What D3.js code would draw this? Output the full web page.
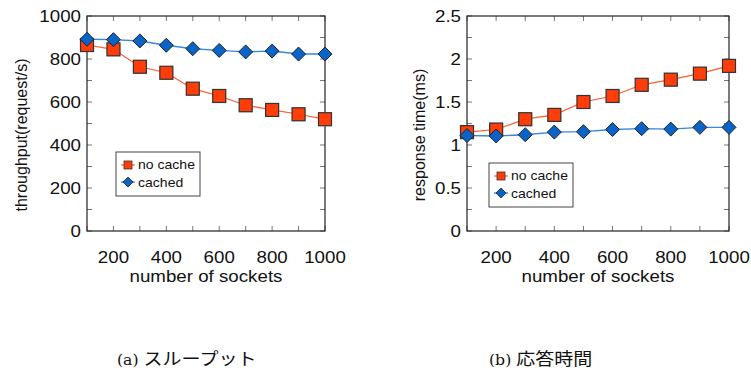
<!DOCTYPE html>
<html>
<head>
<meta charset="utf-8">
<script src="https://cdn.jsdelivr.net/npm/d3@7"></script>
<style>
  body { margin: 0; background: #fff; }
  svg text { font-family: "Liberation Sans", Arial, sans-serif; }
</style>
</head>
<body>
<svg id="chart" width="751" height="371"></svg>
<script>
// shared x values
const sockets = [100, 200, 300, 400, 500, 600, 700, 800, 900, 1000];

// (a) throughput
const throughputNoCache = [865, 845, 764, 736, 662, 628, 585, 563, 543, 520];
const throughputCached  = [892, 890, 884, 864, 848, 840, 833, 837, 823, 823];

// (b) response time
const responseNoCache = [1.15, 1.18, 1.30, 1.35, 1.50, 1.57, 1.70, 1.76, 1.83, 1.92];
const responseCached  = [1.11, 1.105, 1.12, 1.15, 1.155, 1.18, 1.19, 1.185, 1.205, 1.205];

const xTicks = [200, 400, 600, 800, 1000];
const throughputTicks = [0, 200, 400, 600, 800, 1000];
const responseTicks = [0, 0.5, 1, 1.5, 2, 2.5];

const seriesNames = ["no cache", "cached"];
const captions = ["(a) ", "スループット", "(b) ", "応答時間"];

const svg = d3.select("#chart");
const stretch = 1.17;   // the original text is a bit wide

// place a text at (x, y) widened horizontally
function wideText(parent, x, y, str, size, anchor)
{
    return parent.append("text")
        .attr("transform", "translate(" + x + "," + y + ") scale(" + stretch + ",1)")
        .attr("text-anchor", anchor || "start")
        .attr("font-size", size)
        .attr("fill", "#111")
        .text(str);
}

function drawPanel(opt)
{
    let g = svg.append("g");

    let xScale = d3.scaleLinear().domain([100, 1000]).range([opt.left, opt.right]);
    let yScale = d3.scaleLinear().domain([0, opt.yMax]).range([231, 16]);

    // inward gray ticks on all four sides
    let minorX = d3.range(100, 1001, 100);
    let minorY = d3.range(0, opt.yMax + 1e-9, opt.yMinor);
    let tickColor = "#777";
    minorX.forEach(function (v) {
        g.append("line").attr("x1", xScale(v)).attr("x2", xScale(v))
            .attr("y1", 231).attr("y2", 226).attr("stroke", tickColor);
        g.append("line").attr("x1", xScale(v)).attr("x2", xScale(v))
            .attr("y1", 16).attr("y2", 21).attr("stroke", tickColor);
    });
    minorY.forEach(function (v) {
        g.append("line").attr("x1", opt.left).attr("x2", opt.left + 5)
            .attr("y1", yScale(v)).attr("y2", yScale(v)).attr("stroke", tickColor);
        g.append("line").attr("x1", opt.right).attr("x2", opt.right - 5)
            .attr("y1", yScale(v)).attr("y2", yScale(v)).attr("stroke", tickColor);
    });

    // frame
    g.append("rect")
        .attr("x", opt.left).attr("y", 16)
        .attr("width", opt.right - opt.left).attr("height", 215)
        .attr("fill", "none").attr("stroke", "#222").attr("stroke-width", 1.2);

    // tick labels
    xTicks.forEach(function (d) {
        wideText(g, xScale(d), 263, d, 16, "middle");
    });
    opt.yTicks.forEach(function (d) {
        wideText(g, opt.left - 6, yScale(d) + 6, d, 16, "end");
    });

    // axis titles
    wideText(g, (opt.left + opt.right) / 2, 282, "number of sockets", 16, "middle");

    g.append("text")
        .attr("transform", "translate(" + opt.titleX + ",135) rotate(-90)")
        .attr("text-anchor", "middle").attr("font-size", 16)
        .attr("fill", "#111").text(opt.yTitle);

    let line = d3.line().x((d, i) => xScale(sockets[i])).y(d => yScale(d));

    // lines
    g.append("path").datum(opt.noCache).attr("d", line)
        .attr("fill", "none").attr("stroke", "#ff5a2a").attr("stroke-width", 1.2);
    g.append("path").datum(opt.cached).attr("d", line)
        .attr("fill", "none").attr("stroke", "#3a86d8").attr("stroke-width", 1.4);

    // square markers (with soft shadow)
    opt.noCache.forEach(function (v, i) {
        let cx = xScale(sockets[i]), cy = yScale(v);
        g.append("rect").attr("x", cx - 6).attr("y", cy - 6)
            .attr("width", 13).attr("height", 13).attr("fill", "#999").attr("opacity", 0.6);
        g.append("rect").attr("x", cx - 6.5).attr("y", cy - 6.5)
            .attr("width", 13).attr("height", 13)
            .attr("fill", "#ff3d0a").attr("stroke", "#333").attr("stroke-width", 1.2);
    });

    // diamond markers
    opt.cached.forEach(function (v, i) {
        let cx = xScale(sockets[i]), cy = yScale(v);
        g.append("path")
            .attr("d", "M" + cx + "," + (cy - 7) + "L" + (cx + 7) + "," + cy +
                "L" + cx + "," + (cy + 7) + "L" + (cx - 7) + "," + cy + "Z")
            .attr("fill", "#0a64c8").attr("stroke", "#222").attr("stroke-width", 1);
    });

    // legend
    let lx = opt.legendX, ly = opt.legendY;
    g.append("rect").attr("x", lx).attr("y", ly).attr("width", 84).attr("height", 44)
        .attr("fill", "#fff").attr("stroke", "#444").attr("stroke-width", 1);

    g.append("line").attr("x1", lx + 5).attr("x2", lx + 19)
        .attr("y1", ly + 13).attr("y2", ly + 13).attr("stroke", "#ff5a2a").attr("stroke-width", 1.2);
    g.append("rect").attr("x", lx + 8).attr("y", ly + 9).attr("width", 8).attr("height", 8)
        .attr("fill", "#ff3d0a").attr("stroke", "#333").attr("stroke-width", 0.8);
    wideText(g, lx + 22, ly + 17, seriesNames[0], 12);

    g.append("line").attr("x1", lx + 5).attr("x2", lx + 19)
        .attr("y1", ly + 30).attr("y2", ly + 30).attr("stroke", "#3a86d8").attr("stroke-width", 1.4);
    g.append("path")
        .attr("d", "M" + (lx + 12) + "," + (ly + 25) + "L" + (lx + 17) + "," + (ly + 30) +
            "L" + (lx + 12) + "," + (ly + 35) + "L" + (lx + 7) + "," + (ly + 30) + "Z")
        .attr("fill", "#0a64c8").attr("stroke", "#222").attr("stroke-width", 0.8);
    wideText(g, lx + 22, ly + 35, seriesNames[1], 12);
}

drawPanel({
    left: 87, right: 325, yMax: 1000, yMinor: 100,
    yTicks: throughputTicks, yTitle: "throughput(request/s)", titleX: 27,
    noCache: throughputNoCache, cached: throughputCached,
    legendX: 116, legendY: 152
});

drawPanel({
    left: 467, right: 729, yMax: 2.5, yMinor: 0.25,
    yTicks: responseTicks, yTitle: "response time(ms)", titleX: 425,
    noCache: responseNoCache, cached: responseCached,
    legendX: 489, legendY: 163
});

// captions
function caption(x, label, jp)
{
    let t = svg.append("text").attr("transform", "translate(" + x + ",365) scale(1.12,1)")
        .attr("fill", "#111");
    t.append("tspan").attr("font-family", "'DejaVu Serif', 'Liberation Serif', serif")
        .attr("font-size", 14).text(label);
    t.append("tspan").attr("font-family", "'Noto Sans CJK JP', sans-serif")
        .attr("font-size", 17).text(jp);
}
caption(117, captions[0], captions[1]);
caption(489, captions[2], captions[3]);
</script>
</body>
</html>
